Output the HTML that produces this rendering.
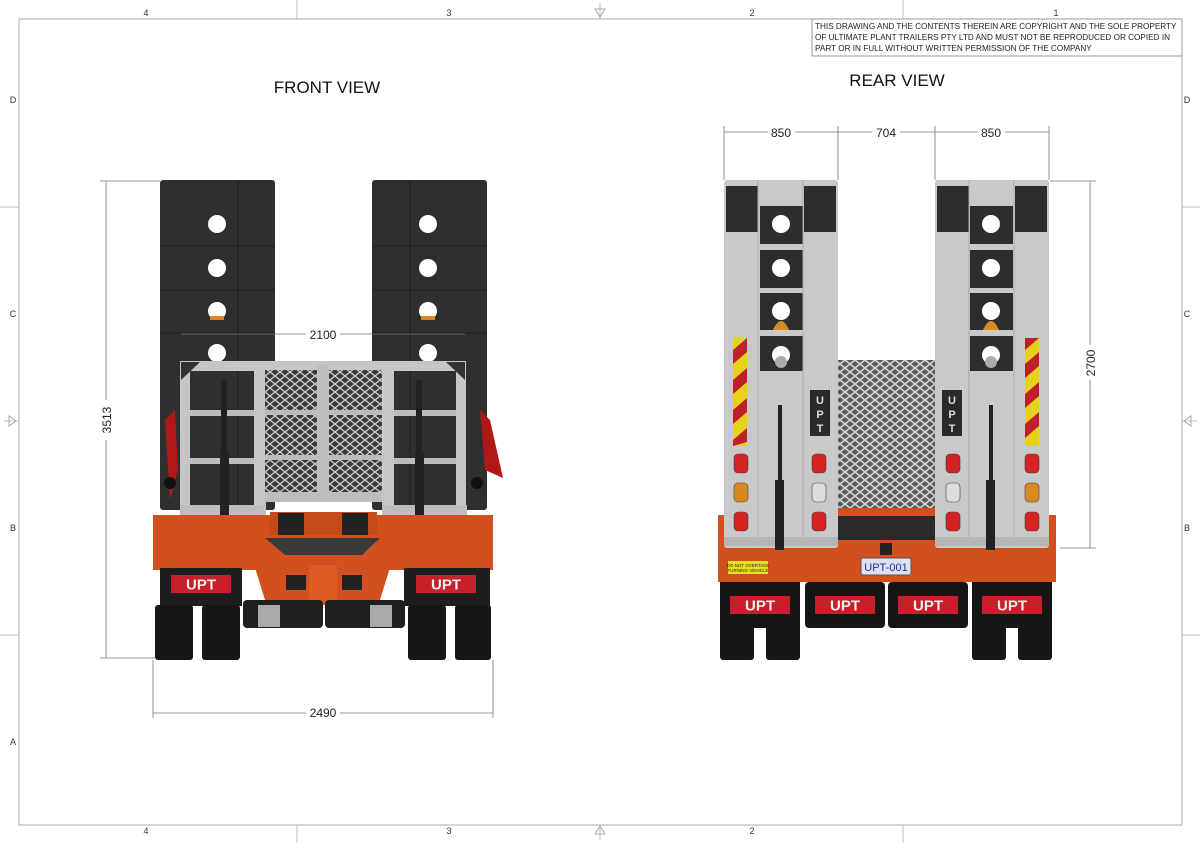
<!DOCTYPE html>
<html><head><meta charset="utf-8"><style>
html,body{margin:0;padding:0;background:#fff;}
svg{display:block;font-family:"Liberation Sans","DejaVu Sans",sans-serif;}
</style></head><body>
<svg width="1200" height="843" viewBox="0 0 1200 843" xmlns="http://www.w3.org/2000/svg">
<defs>
<pattern id="mesh" width="10" height="8" patternUnits="userSpaceOnUse">
<rect width="10" height="8" fill="#3a3a3a"/>
<path d="M0 4 L5 0 L10 4 L5 8 Z" fill="none" stroke="#cfcfcf" stroke-width="1.3"/>
</pattern>
<pattern id="mesh2" width="10" height="8" patternUnits="userSpaceOnUse">
<rect width="10" height="8" fill="#5a5a5a"/>
<path d="M0 4 L5 0 L10 4 L5 8 Z" fill="none" stroke="#d8d8d8" stroke-width="1.5"/>
</pattern>
<g id="upt">
<rect x="0" y="0" width="60" height="18" fill="#c8202a"/>
<text x="30" y="14.5" font-size="15" font-weight="bold" fill="#eee" text-anchor="middle">UPT</text>
</g>
</defs>
<!-- border -->
<rect x="19" y="19" width="1163" height="806" fill="none" stroke="#aaa" stroke-width="1"/>
<g stroke="#bbb" stroke-width="1">
<line x1="297" y1="0" x2="297" y2="19"/><line x1="903" y1="0" x2="903" y2="19"/>
<line x1="297" y1="825" x2="297" y2="843"/><line x1="903" y1="825" x2="903" y2="843"/>
<line x1="0" y1="207" x2="19" y2="207"/><line x1="0" y1="635" x2="19" y2="635"/>
<line x1="1182" y1="207" x2="1200" y2="207"/><line x1="1182" y1="635" x2="1200" y2="635"/>
<line x1="600" y1="3" x2="600" y2="19"/><line x1="600" y1="825" x2="600" y2="840"/>
<line x1="4" y1="421" x2="19" y2="421"/><line x1="1182" y1="421" x2="1197" y2="421"/>
</g>
<g fill="none" stroke="#aaa"><path d="M595 9 L605 9 L600 17 Z"/><path d="M595 834 L605 834 L600 826 Z"/>
<path d="M9 416 L9 426 L16 421 Z"/><path d="M1191 416 L1191 426 L1184 421 Z"/></g>
<g font-size="9" fill="#333" text-anchor="middle">
<text x="146" y="16">4</text><text x="449" y="16">3</text><text x="752" y="16">2</text><text x="1056" y="16">1</text>
<text x="146" y="834">4</text><text x="449" y="834">3</text><text x="752" y="834">2</text>
<text x="13" y="103">D</text><text x="13" y="317">C</text><text x="13" y="531">B</text><text x="13" y="745">A</text>
<text x="1187" y="103">D</text><text x="1187" y="317">C</text><text x="1187" y="531">B</text>
</g>
<rect x="812" y="19" width="370" height="37" fill="#fff" stroke="#999"/>
<g font-size="8.2" fill="#222"><text x="815" y="29">THIS DRAWING AND THE CONTENTS THEREIN ARE COPYRIGHT AND THE SOLE PROPERTY</text>
<text x="815" y="40">OF ULTIMATE PLANT TRAILERS PTY LTD AND MUST NOT BE REPRODUCED OR COPIED IN</text>
<text x="815" y="51">PART OR IN FULL WITHOUT WRITTEN PERMISSION OF THE COMPANY</text></g>
<text x="327" y="93" font-size="17" text-anchor="middle" fill="#111">FRONT VIEW</text>
<text x="897" y="86" font-size="17" text-anchor="middle" fill="#111">REAR VIEW</text>

<!-- FRONT VIEW -->
<g>
<rect x="160" y="180" width="115" height="330" rx="3" fill="#2f2f2f"/>
<rect x="372" y="180" width="115" height="330" rx="3" fill="#2f2f2f"/>
<g stroke="#1e1e1e" stroke-width="1"><line x1="160" y1="246" x2="275" y2="246"/><line x1="160" y1="290" x2="275" y2="290"/><line x1="160" y1="333" x2="275" y2="333"/>
<line x1="372" y1="246" x2="487" y2="246"/><line x1="372" y1="290" x2="487" y2="290"/><line x1="372" y1="333" x2="487" y2="333"/>
<line x1="238" y1="180" x2="238" y2="510"/><line x1="410" y1="180" x2="410" y2="510"/></g>
<g fill="#fff"><circle cx="217" cy="224" r="9"/><circle cx="217" cy="268" r="9"/><circle cx="217" cy="311" r="9"/><circle cx="217" cy="353" r="9"/>
<circle cx="428" cy="224" r="9"/><circle cx="428" cy="268" r="9"/><circle cx="428" cy="311" r="9"/><circle cx="428" cy="353" r="9"/></g>
<g fill="#d88a20"><rect x="210" y="316" width="14" height="4"/><rect x="421" y="316" width="14" height="4"/></g>
<!-- gate -->
<rect x="180" y="361" width="286" height="10" fill="#c6c6c6"/>
<rect x="180" y="361" width="10" height="170" fill="#c6c6c6"/><rect x="456" y="361" width="10" height="170" fill="#c6c6c6"/>
<rect x="254" y="370" width="12" height="160" fill="#c6c6c6"/><rect x="382" y="370" width="12" height="160" fill="#c6c6c6"/>
<rect x="265" y="370" width="117" height="125" fill="url(#mesh)"/>
<rect x="317" y="365" width="12" height="130" fill="#bdbdbd"/>
<rect x="265" y="410" width="117" height="5" fill="#bdbdbd"/><rect x="265" y="455" width="117" height="5" fill="#bdbdbd"/>
<g fill="#bdbdbd"><rect x="190" y="410" width="64" height="6"/><rect x="190" y="458" width="64" height="6"/><rect x="394" y="410" width="62" height="6"/><rect x="394" y="458" width="62" height="6"/>
<rect x="180" y="505" width="85" height="20"/><rect x="382" y="505" width="85" height="20"/><rect x="265" y="492" width="117" height="10"/></g>
<path d="M181 362 L200 362 L181 380Z M465 362 L446 362 L465 380Z" fill="#333"/>
<g fill="#222"><rect x="221" y="380" width="6" height="160"/><rect x="416" y="380" width="6" height="160"/><rect x="220" y="453" width="9" height="80"/><rect x="415" y="453" width="9" height="80"/></g>
<g fill="#b01818"><path d="M165 420 L175 410 L178 470 L170 500Z"/><path d="M480 410 L490 420 L503 478 L485 470Z"/></g>
<circle cx="170" cy="483" r="6" fill="#111"/><circle cx="477" cy="483" r="6" fill="#111"/>
<!-- body -->
<rect x="153" y="515" width="340" height="55" fill="#d2501e"/>
<rect x="270" y="512" width="107" height="25" fill="#c24a1b"/>
<rect x="278" y="513" width="26" height="25" fill="#222"/><rect x="342" y="513" width="26" height="25" fill="#222"/>
<path d="M245 535 L400 535 L380 600 L265 600Z" fill="#d2501e"/>
<path d="M265 538 L380 538 L362 555 L285 555Z" fill="#3a3a3a"/>
<rect x="309" y="565" width="28" height="40" fill="#e05a24"/>
<rect x="286" y="575" width="20" height="15" fill="#222"/><rect x="342" y="575" width="20" height="15" fill="#222"/>
<rect x="160" y="568" width="82" height="38" fill="#1e1e1e"/><rect x="404" y="568" width="86" height="38" fill="#1e1e1e"/>
<use href="#upt" x="171" y="575"/><use href="#upt" x="416" y="575"/>
<rect x="243" y="600" width="80" height="28" rx="4" fill="#1f1f1f"/><rect x="325" y="600" width="80" height="28" rx="4" fill="#1f1f1f"/>
<rect x="258" y="605" width="22" height="22" fill="#aaa"/><rect x="370" y="605" width="22" height="22" fill="#aaa"/>
<g fill="#161616"><rect x="155" y="605" width="38" height="55" rx="3"/><rect x="202" y="605" width="38" height="55" rx="3"/>
<rect x="408" y="605" width="38" height="55" rx="3"/><rect x="455" y="605" width="36" height="55" rx="3"/></g>
</g>
<!-- front dims -->
<g stroke="#777" stroke-width="0.8" fill="none">
<line x1="181" y1="334" x2="306" y2="334"/><line x1="340" y1="334" x2="465" y2="334"/>
<line x1="100" y1="181" x2="160" y2="181"/><line x1="100" y1="658" x2="155" y2="658"/>
<line x1="106" y1="181" x2="106" y2="400"/><line x1="106" y1="440" x2="106" y2="658"/>
<line x1="153" y1="660" x2="153" y2="718"/><line x1="493" y1="660" x2="493" y2="718"/>
<line x1="153" y1="713" x2="306" y2="713"/><line x1="340" y1="713" x2="493" y2="713"/>
</g>
<g font-size="12" fill="#222" text-anchor="middle"><text x="323" y="339">2100</text><text x="323" y="717">2490</text>
<text transform="translate(111,420) rotate(-90)">3513</text></g>

<!-- REAR VIEW -->
<g>
<rect x="718" y="515" width="338" height="67" fill="#d2501e"/>
<rect x="838" y="508" width="97" height="8" fill="#d2501e"/>
<rect x="838" y="516" width="97" height="24" fill="#2a2a2a"/>
<rect x="724" y="180" width="114" height="368" rx="3" fill="#c9c9c9"/>
<rect x="935" y="180" width="114" height="368" rx="3" fill="#c9c9c9"/>
<g fill="#2d2d2d"><rect x="726" y="186" width="32" height="46"/><rect x="804" y="186" width="32" height="46"/>
<rect x="937" y="186" width="32" height="46"/><rect x="1015" y="186" width="32" height="46"/>
<rect x="760" y="206" width="43" height="38"/><rect x="760" y="250" width="43" height="38"/><rect x="760" y="293" width="43" height="37"/><rect x="760" y="336" width="43" height="35"/>
<rect x="970" y="206" width="43" height="38"/><rect x="970" y="250" width="43" height="38"/><rect x="970" y="293" width="43" height="37"/><rect x="970" y="336" width="43" height="35"/></g>
<g fill="#fff"><circle cx="781" cy="224" r="9"/><circle cx="781" cy="268" r="9"/><circle cx="781" cy="311" r="9"/><circle cx="781" cy="355" r="9"/>
<circle cx="991" cy="224" r="9"/><circle cx="991" cy="268" r="9"/><circle cx="991" cy="311" r="9"/><circle cx="991" cy="355" r="9"/></g>
<g fill="#d88a20"><path d="M773 330 Q781 312 789 330Z"/><path d="M983 330 Q991 312 999 330Z"/></g>
<circle cx="781" cy="362" r="6" fill="#aaa"/><circle cx="991" cy="362" r="6" fill="#aaa"/>
<g stroke="#aaa"><line x1="758" y1="180" x2="758" y2="540"/><line x1="803" y1="180" x2="803" y2="540"/><line x1="969" y1="180" x2="969" y2="540"/><line x1="1014" y1="180" x2="1014" y2="540"/></g>
<rect x="838" y="360" width="97" height="148" fill="url(#mesh2)"/>
<g><rect x="733" y="338" width="14" height="108" fill="#e7d21a"/>
<path d="M733 350 L747 338 L747 352 L733 364Z M733 380 L747 368 L747 382 L733 394Z M733 410 L747 398 L747 412 L733 424Z M733 440 L747 428 L747 442 L733 446Z" fill="#c0202a"/>
<rect x="1025" y="338" width="14" height="108" fill="#e7d21a"/>
<path d="M1025 338 L1039 338 L1025 350Z M1025 364 L1039 352 L1039 366 L1025 378Z M1025 394 L1039 382 L1039 396 L1025 408Z M1025 424 L1039 412 L1039 426 L1025 438Z" fill="#c0202a"/></g>
<g fill="#2a2a2a"><rect x="810" y="390" width="20" height="46"/><rect x="942" y="390" width="20" height="46"/></g>
<g font-size="11" font-weight="bold" fill="#ddd" text-anchor="middle"><text x="820" y="404">U</text><text x="820" y="418">P</text><text x="820" y="432">T</text>
<text x="952" y="404">U</text><text x="952" y="418">P</text><text x="952" y="432">T</text></g>
<g fill="#d42222" stroke="#444" stroke-width="0.6">
<rect x="734" y="454" width="14" height="19" rx="4"/><rect x="734" y="512" width="14" height="19" rx="4"/>
<rect x="812" y="454" width="14" height="19" rx="4"/><rect x="812" y="512" width="14" height="19" rx="4"/>
<rect x="946" y="454" width="14" height="19" rx="4"/><rect x="946" y="512" width="14" height="19" rx="4"/>
<rect x="1025" y="454" width="14" height="19" rx="4"/><rect x="1025" y="512" width="14" height="19" rx="4"/>
<rect x="734" y="483" width="14" height="19" rx="4" fill="#d88a20"/><rect x="1025" y="483" width="14" height="19" rx="4" fill="#d88a20"/>
<rect x="812" y="483" width="14" height="19" rx="4" fill="#ddd"/><rect x="946" y="483" width="14" height="19" rx="4" fill="#ddd"/></g>
<rect x="724" y="537" width="114" height="9" fill="#b5b5b5"/><rect x="935" y="537" width="114" height="9" fill="#b5b5b5"/>
<g fill="#222"><rect x="778" y="405" width="4" height="110"/><rect x="775" y="480" width="9" height="70"/><rect x="989" y="405" width="4" height="110"/><rect x="986" y="480" width="9" height="70"/></g>
<rect x="880" y="543" width="12" height="12" fill="#222"/>
<rect x="728" y="561" width="40" height="13" fill="#e8e020"/>
<text x="748" y="567" font-size="4.5" text-anchor="middle" fill="#222">DO NOT OVERTAKE</text><text x="748" y="572" font-size="4.5" text-anchor="middle" fill="#222">TURNING VEHICLE</text>
<rect x="861" y="558" width="50" height="17" rx="2" fill="#dde0f0" stroke="#555"/>
<text x="886" y="571" font-size="11" text-anchor="middle" fill="#223399">UPT-001</text>
<g fill="#161616"><rect x="720" y="582" width="80" height="46"/><rect x="805" y="582" width="80" height="46" rx="4"/><rect x="888" y="582" width="80" height="46" rx="4"/><rect x="972" y="582" width="80" height="46"/>
<rect x="720" y="625" width="34" height="35" rx="3"/><rect x="766" y="625" width="34" height="35" rx="3"/><rect x="972" y="625" width="34" height="35" rx="3"/><rect x="1018" y="625" width="34" height="35" rx="3"/></g>
<use href="#upt" x="730" y="596"/><use href="#upt" x="815" y="596"/><use href="#upt" x="898" y="596"/><use href="#upt" x="982" y="596"/>
</g>
<!-- rear dims -->
<g stroke="#777" stroke-width="0.8" fill="none">
<line x1="724" y1="126" x2="724" y2="180"/><line x1="838" y1="126" x2="838" y2="180"/><line x1="935" y1="126" x2="935" y2="180"/><line x1="1049" y1="126" x2="1049" y2="180"/>
<line x1="724" y1="132" x2="768" y2="132"/><line x1="795" y1="132" x2="838" y2="132"/>
<line x1="838" y1="132" x2="872" y2="132"/><line x1="900" y1="132" x2="935" y2="132"/>
<line x1="935" y1="132" x2="978" y2="132"/><line x1="1005" y1="132" x2="1049" y2="132"/>
<line x1="1050" y1="181" x2="1096" y2="181"/><line x1="1060" y1="548" x2="1096" y2="548"/>
<line x1="1090" y1="181" x2="1090" y2="345"/><line x1="1090" y1="380" x2="1090" y2="548"/>
</g>
<g font-size="12" fill="#222" text-anchor="middle"><text x="781" y="137">850</text><text x="886" y="137">704</text><text x="991" y="137">850</text>
<text transform="translate(1095,363) rotate(-90)">2700</text></g>
</svg>
</body></html>
